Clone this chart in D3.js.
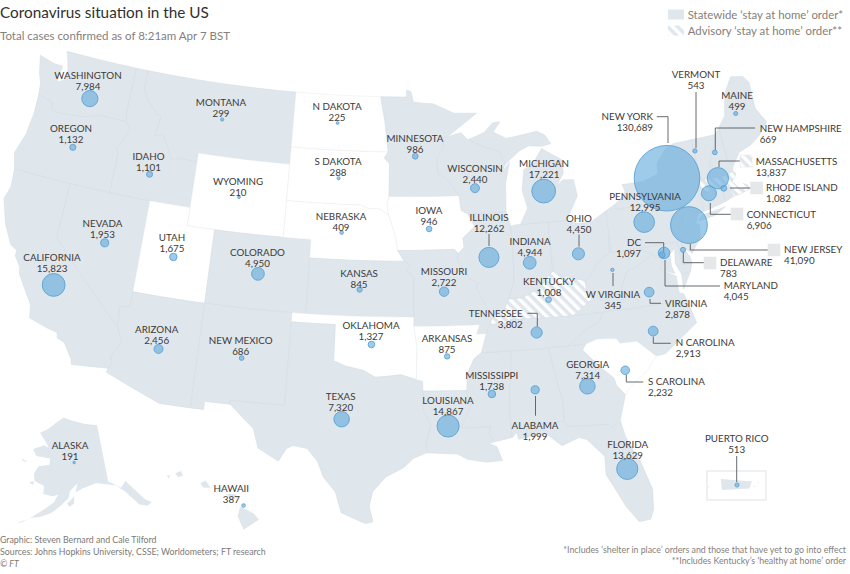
<!DOCTYPE html>
<html>
<head>
<meta charset="utf-8">
<script src="https://cdn.jsdelivr.net/npm/d3@7"></script>
<style>
  html, body { margin: 0; padding: 0; background: #fff; }
  svg { display: block; }
  text { font-family: Lato, "Open Sans", sans-serif; }
</style>
</head>
<body>
<svg id="chart" width="850" height="574"></svg>
<script>
// cases per state
const stateNames = ['WASHINGTON','OREGON','CALIFORNIA','NEVADA','IDAHO','MONTANA','WYOMING','UTAH','COLORADO','ARIZONA','NEW MEXICO','N DAKOTA','S DAKOTA','NEBRASKA','KANSAS','OKLAHOMA','TEXAS','MINNESOTA','IOWA','MISSOURI','ARKANSAS','LOUISIANA','WISCONSIN','ILLINOIS','MICHIGAN','INDIANA','OHIO','KENTUCKY','TENNESSEE','MISSISSIPPI','ALABAMA','GEORGIA','FLORIDA','S CAROLINA','N CAROLINA','VIRGINIA','W VIRGINIA','MARYLAND','DC','DELAWARE','PENNSYLVANIA','NEW JERSEY','NEW YORK','VERMONT','NEW HAMPSHIRE','MAINE','CONNECTICUT','RHODE ISLAND','MASSACHUSETTS','PUERTO RICO','ALASKA','HAWAII'];
const caseCounts = [7984,1132,15823,1953,1101,299,210,1675,4950,2456,686,225,288,409,845,1327,7320,986,946,2722,875,14867,2440,12262,17221,4944,4450,1008,3802,1738,1999,7314,13629,2232,2913,2878,345,4045,1097,783,12995,41090,130689,543,669,499,6906,1082,13837,513,191,387];
const centreLon = [-120.08,-120.45,-119.45,-116.63,-114.41,-109.62,-107.58,-111.68,-105.61,-111.68,-106.12,-100.58,-100.28,-99.86,-98.42,-97.5,-99.3,-94.48,-93.49,-92.51,-92.41,-92.46,-90.01,-89.25,-84.9,-86.38,-82.87,-85.29,-86.3,-89.55,-86.71,-83.29,-81.41,-80.7,-78.48,-78.33,-80.63,-76.85,-77.01,-75.49,-77.88,-74.74,-75.67,-73.22,-71.78,-69.55,-72.86,-71.72,-71.98,-66.4,-152,-155.7];
const centreLat = [46.77,43.95,36.48,39.29,43.41,47.02,42.92,39.22,38.91,34.21,34.32,47.44,44.41,41.47,38.43,35.5,31.44,45.71,41.74,38.34,34.86,31.12,43.88,40.09,43.45,39.65,39.87,37.58,35.88,32.75,32.82,32.74,28.07,33.34,35.2,37.3,38.78,39.25,39.16,39.23,41.07,40.48,43.2,44.36,44.05,45.86,41.95,42.04,42.64,18.2,64,20.3];

const noOrderStates = ['N DAKOTA','S DAKOTA','WYOMING','UTAH','NEBRASKA','IOWA','OKLAHOMA','ARKANSAS','S CAROLINA'];
const advisoryStates = ['KENTUCKY','MASSACHUSETTS'];

// state outlines as lon/lat rings
const outlines = {
  'WASHINGTON': [[[-122.76,49],[-117.03,49],[-117.04,46.42],[-116.92,45.99],[-118.98,46],[-119.3,45.93],[-120.2,45.73],[-121.2,45.65],[-122.2,45.58],[-122.76,45.65],[-122.8,46],[-123.2,46.15],[-124,46.25],[-124.1,46.9],[-124.4,47.4],[-124.73,48.38],[-123.5,48.15],[-122.8,48.13],[-122.9,47.2],[-122.4,47.4],[-122.3,48],[-122.5,48.5]]],
  'OREGON': [[[-124,46.25],[-123.2,46.15],[-122.8,46],[-122.76,45.65],[-122.2,45.58],[-121.2,45.65],[-120.2,45.73],[-119.3,45.93],[-118.98,46],[-116.92,45.99],[-116.46,45.6],[-116.85,45],[-117.2,44.45],[-117.03,44.2],[-117.03,42],[-124.21,42],[-124.55,42.84],[-124.1,44],[-123.95,45.2]]],
  'CALIFORNIA': [[[-124.21,42],[-120,42],[-120,39],[-114.63,35],[-114.13,34.26],[-114.72,33.4],[-114.52,33.03],[-114.72,32.72],[-117.12,32.53],[-117.25,32.85],[-117.9,33.6],[-118.4,33.75],[-118.5,34.03],[-119.2,34.15],[-120.5,34.45],[-120.65,35.15],[-121.9,36.6],[-122,36.95],[-122.5,37.5],[-122.5,37.8],[-123,38],[-123.75,39],[-124.35,40.3],[-124.1,41]]],
  'NEVADA': [[[-120,42],[-114.04,42],[-114.04,36.2],[-114.74,36.1],[-114.63,35],[-120,39]]],
  'IDAHO': [[[-117.03,49],[-116.05,49],[-116.05,48],[-115.7,47.45],[-114.7,46.75],[-114.35,46.65],[-114.55,45.55],[-113.95,45.7],[-113.45,45.05],[-113,44.45],[-112.3,44.55],[-111.5,44.55],[-111.05,44.48],[-111.05,42],[-117.03,42],[-117.03,44.2],[-117.2,44.45],[-116.85,45],[-116.46,45.6],[-116.92,45.99],[-117.04,46.42]]],
  'MONTANA': [[[-116.05,49],[-116.05,48],[-115.7,47.45],[-114.7,46.75],[-114.35,46.65],[-114.55,45.55],[-113.95,45.7],[-113.45,45.05],[-113,44.45],[-112.3,44.55],[-111.5,44.55],[-111.05,44.48],[-111.05,45],[-104.05,45],[-104.05,49]]],
  'WYOMING': [[[-111.05,45],[-104.05,45],[-104.05,41],[-111.05,41]]],
  'UTAH': [[[-114.04,42],[-111.05,42],[-111.05,41],[-109.05,41],[-109.05,37],[-114.04,37]]],
  'COLORADO': [[[-109.05,41],[-102.05,41],[-102.05,37],[-109.05,37]]],
  'ARIZONA': [[[-114.04,37],[-109.05,37],[-109.05,31.33],[-111.07,31.33],[-114.81,32.5],[-114.72,32.72],[-114.52,33.03],[-114.72,33.4],[-114.13,34.26],[-114.63,35],[-114.74,36.1],[-114.04,36.2]]],
  'NEW MEXICO': [[[-109.05,37],[-103,37],[-103.04,32],[-106.62,32],[-106.53,31.78],[-108.2,31.78],[-108.2,31.33],[-109.05,31.33]]],
  'N DAKOTA': [[[-104.05,49],[-97.23,49],[-96.85,47.6],[-96.56,45.94],[-104.05,45.94]]],
  'S DAKOTA': [[[-104.05,45.94],[-96.56,45.94],[-96.85,45.6],[-96.45,45.3],[-96.45,43.5],[-96.6,43.1],[-96.45,42.49],[-97.2,42.85],[-97.9,42.8],[-98.5,43],[-104.05,43]]],
  'NEBRASKA': [[[-104.05,43],[-98.5,43],[-97.9,42.8],[-97.2,42.85],[-96.45,42.49],[-96.1,41.7],[-95.9,41.2],[-95.77,40.58],[-95.31,40],[-102.05,40],[-102.05,41],[-104.05,41]]],
  'KANSAS': [[[-102.05,40],[-95.31,40],[-94.9,39.8],[-95.1,39.5],[-94.61,39.1],[-94.62,37],[-102.05,37]]],
  'OKLAHOMA': [[[-103,37],[-94.62,37],[-94.62,36.5],[-94.43,35.4],[-94.48,33.64],[-95.5,33.9],[-96.5,33.8],[-97.2,33.75],[-98,34.1],[-99.2,34.3],[-100,34.56],[-100,36.5],[-103,36.5]]],
  'TEXAS': [[[-103,36.5],[-100,36.5],[-100,34.56],[-99.2,34.3],[-98,34.1],[-97.2,33.75],[-96.5,33.8],[-95.5,33.9],[-94.48,33.64],[-94.04,33.55],[-94.04,32],[-93.55,31.2],[-93.85,30.3],[-93.84,29.7],[-94.7,29.4],[-95.3,28.9],[-96.4,28.4],[-97.2,27.6],[-97.4,26.8],[-97.15,25.96],[-97.6,25.85],[-99.1,26.4],[-99.5,27.5],[-100.3,28.3],[-100.7,29.1],[-101.4,29.77],[-102.3,29.88],[-102.7,29.7],[-103.15,28.98],[-104.5,29.6],[-104.9,30.6],[-106.53,31.78],[-106.62,32],[-103.04,32]]],
  'MINNESOTA': [[[-97.23,49],[-95.15,49],[-95.15,49.38],[-94.8,49.3],[-94.6,48.7],[-93,48.6],[-91.4,48.05],[-89.6,48],[-92,46.75],[-92.3,46.66],[-92.3,46.1],[-92.85,45.6],[-92.75,44.75],[-91.9,44.3],[-91.22,43.5],[-96.45,43.5],[-96.45,45.3],[-96.85,45.6],[-96.56,45.94],[-96.85,47.6]]],
  'IOWA': [[[-96.45,43.5],[-91.22,43.5],[-91.1,42.7],[-90.64,42.5],[-90.15,41.8],[-91.05,41.2],[-91,40.7],[-91.42,40.38],[-91.73,40.61],[-95.77,40.58],[-95.9,41.2],[-96.1,41.7],[-96.45,42.49],[-96.6,43.1]]],
  'MISSOURI': [[[-95.77,40.58],[-91.73,40.61],[-91.42,40.38],[-91.5,40],[-90.7,39],[-90.2,38.8],[-90.2,38.4],[-89.5,37.3],[-89.15,37],[-89.42,36.5],[-89.7,36],[-90.37,36],[-90.15,36.5],[-94.62,36.5],[-94.62,37],[-94.61,39.1],[-95.1,39.5],[-94.9,39.8],[-95.31,40]]],
  'ARKANSAS': [[[-94.62,36.5],[-90.15,36.5],[-90.37,36],[-89.7,36],[-90.1,35],[-90.6,34.7],[-91.1,33.9],[-91.17,33],[-94.04,33.02],[-94.04,33.55],[-94.48,33.64],[-94.43,35.4]]],
  'LOUISIANA': [[[-94.04,33.02],[-91.17,33],[-91.1,32.5],[-90.9,32.3],[-91.6,31],[-89.73,31],[-89.85,30.65],[-89.55,30.18],[-89.9,30.1],[-89.4,29.9],[-89.1,29.15],[-90.1,29.1],[-91.3,29.3],[-91.9,29.6],[-93.84,29.7],[-93.85,30.3],[-93.55,31.2],[-94.04,32]]],
  'MISSISSIPPI': [[[-91.17,33],[-91.1,33.9],[-90.6,34.7],[-90.1,35],[-88.2,35],[-88.1,34.9],[-88.47,31.9],[-88.4,30.35],[-89.55,30.18],[-89.85,30.65],[-89.73,31],[-91.6,31],[-90.9,32.3],[-91.1,32.5]]],
  'ALABAMA': [[[-88.2,35],[-85.6,35],[-85.18,32.87],[-85,32.3],[-85,31],[-87.6,31],[-87.4,30.65],[-87.5,30.3],[-88,30.23],[-88.1,30.6],[-88.4,30.35],[-88.47,31.9],[-88.1,34.9]]],
  'TENNESSEE': [[[-89.42,36.5],[-88.05,36.5],[-88.05,36.68],[-83.68,36.6],[-81.68,36.59],[-82,36.1],[-83,35.75],[-84.3,35],[-90.1,35],[-89.7,36]]],
  'KENTUCKY': [[[-89.42,36.5],[-89.15,37],[-88.5,37.1],[-88.05,37.8],[-87.1,37.8],[-86.3,38.1],[-85.7,38.3],[-85.4,38.7],[-84.8,39.1],[-84.2,38.8],[-83.7,38.65],[-82.6,38.4],[-82.6,37.9],[-81.97,37.54],[-83.68,36.6],[-88.05,36.68],[-88.05,36.5]]],
  'ILLINOIS': [[[-90.64,42.5],[-87.8,42.5],[-87.53,41.7],[-87.53,39.35],[-87.6,38.7],[-87.95,38],[-88.05,37.8],[-88.5,37.1],[-89.15,37],[-89.5,37.3],[-90.2,38.4],[-90.2,38.8],[-90.7,39],[-91.5,40],[-91.42,40.38],[-91,40.7],[-91.05,41.2],[-90.15,41.8]]],
  'INDIANA': [[[-87.53,41.7],[-87.2,41.75],[-86.82,41.76],[-84.8,41.76],[-84.8,39.1],[-85.4,38.7],[-85.7,38.3],[-86.3,38.1],[-87.1,37.8],[-88.05,37.8],[-87.95,38],[-87.6,38.7],[-87.53,39.35]]],
  'OHIO': [[[-84.8,41.76],[-83.45,41.73],[-82.7,41.5],[-81.7,41.5],[-80.52,41.98],[-80.52,40.64],[-80.7,39.7],[-81.7,39.2],[-82.2,38.6],[-82.6,38.4],[-83.7,38.65],[-84.2,38.8],[-84.8,39.1]]],
  'MICHIGAN': [
    [[-86.82,41.76],[-84.8,41.76],[-83.45,41.73],[-83.15,42.1],[-82.45,43],[-82.6,43.9],[-83.4,43.95],[-83.9,43.65],[-83.3,44.3],[-83.3,45.05],[-84.75,45.78],[-85.5,45],[-86.25,44.7],[-86.5,43.6],[-86.2,42.6]],
    [[-90.4,46.55],[-89.1,46.9],[-88.4,47.4],[-87.8,47.45],[-88.4,46.9],[-87.4,46.5],[-85,46.75],[-84.4,46.5],[-84,46],[-84.75,45.9],[-85.7,46],[-86.5,45.75],[-87.6,45.1],[-88,45.8],[-88.8,46]]
  ],
  'WISCONSIN': [[[-92.3,46.66],[-92,46.75],[-90.9,46.95],[-90.4,46.55],[-88.8,46],[-88,45.8],[-87.6,45.1],[-88,44.55],[-87.3,45.2],[-87.7,44],[-87.8,42.5],[-90.64,42.5],[-91.1,42.7],[-91.22,43.5],[-91.9,44.3],[-92.75,44.75],[-92.85,45.6],[-92.3,46.1]]],
  'W VIRGINIA': [[[-82.6,38.4],[-82.2,38.6],[-81.7,39.2],[-80.7,39.7],[-80.52,40.64],[-80.52,39.72],[-79.48,39.72],[-79.48,39.2],[-78.4,39.62],[-77.72,39.32],[-78.35,39],[-78.87,38.76],[-79.65,38.58],[-80.3,37.5],[-81.68,37.2],[-81.97,37.54],[-82.6,37.9]]],
  'VIRGINIA': [
    [[-83.68,36.6],[-81.97,37.54],[-81.68,37.2],[-80.3,37.5],[-79.65,38.58],[-78.87,38.76],[-78.35,39],[-77.72,39.32],[-77.05,38.85],[-77.3,38.4],[-76.3,37.9],[-76.3,37],[-76,36.9],[-75.87,36.55],[-81.68,36.59]],
    [[-75.9,37.95],[-75.25,38.03],[-75.95,37.15]]
  ],
  'N CAROLINA': [[[-84.3,35],[-83,35.75],[-82,36.1],[-81.68,36.59],[-75.87,36.55],[-75.5,35.25],[-76.5,34.7],[-77.9,33.9],[-78.55,33.86],[-79.67,34.8],[-80.8,34.82],[-81,35.1],[-82.3,35.2],[-83.1,35]]],
  'S CAROLINA': [[[-83.1,35],[-82.3,35.2],[-81,35.1],[-80.8,34.82],[-79.67,34.8],[-78.55,33.86],[-79.2,33.2],[-80.4,32.5],[-80.9,32.05],[-81.4,32.6],[-81.5,33],[-82.2,33.6],[-83.35,34.7]]],
  'GEORGIA': [[[-85.6,35],[-83.1,35],[-83.35,34.7],[-82.2,33.6],[-81.5,33],[-81.4,32.6],[-80.9,32.05],[-81.45,30.72],[-82.05,30.36],[-82.2,30.57],[-84.85,30.7],[-85,31],[-85,32.3],[-85.18,32.87]]],
  'FLORIDA': [[[-87.6,31],[-85,31],[-84.85,30.7],[-82.2,30.57],[-82.05,30.36],[-81.45,30.72],[-81.25,29.8],[-80.55,28.4],[-80.03,26.8],[-80.15,25.7],[-80.4,25.2],[-81.1,25.15],[-81.8,26.1],[-82.2,26.9],[-82.75,27.9],[-82.7,28.9],[-83.7,29.9],[-84.2,30.05],[-85.3,29.7],[-86.2,30.4],[-87.5,30.3],[-87.4,30.65]]],
  'MARYLAND': [[[-79.48,39.72],[-75.79,39.72],[-75.7,38.46],[-75.05,38.45],[-75.25,38.03],[-75.9,37.95],[-76.2,38.6],[-76.05,39.4],[-76.45,39.15],[-76.5,38.5],[-76.35,38.05],[-77.3,38.4],[-77.05,38.85],[-77.72,39.32],[-78.4,39.62],[-79.48,39.2]]],
  'DELAWARE': [[[-75.79,39.72],[-75.4,39.8],[-75.55,39.45],[-75.1,38.8],[-75.05,38.45],[-75.7,38.46]]],
  'PENNSYLVANIA': [[[-80.52,41.98],[-79.76,42.27],[-79.76,42],[-75.35,42],[-74.7,41.36],[-75.1,40.95],[-75.2,40.65],[-74.72,40.15],[-75.4,39.8],[-75.79,39.72],[-80.52,39.72]]],
  'NEW JERSEY': [[[-74.7,41.36],[-73.9,41],[-74.25,40.5],[-74,40.4],[-74.1,39.75],[-74.9,38.95],[-75.55,39.45],[-75.4,39.8],[-74.72,40.15],[-75.2,40.65],[-75.1,40.95]]],
  'NEW YORK': [
    [[-79.76,42.27],[-79.05,42.7],[-78.9,42.9],[-79.05,43.27],[-77.5,43.25],[-76.3,43.5],[-76.2,44.1],[-75.3,44.85],[-74.7,45],[-73.35,45],[-73.25,43.55],[-73.3,42.75],[-73.5,42.05],[-73.49,41.2],[-73.7,41],[-73.9,41],[-74.7,41.36],[-75.35,42],[-79.76,42]],
    [[-74,40.6],[-72.8,40.7],[-71.9,41.05],[-72.6,40.97],[-73.7,40.87]]
  ],
  'CONNECTICUT': [[[-73.5,42.05],[-71.8,42.02],[-71.8,41.32],[-73.7,41],[-73.49,41.2]]],
  'RHODE ISLAND': [[[-71.8,42.02],[-71.38,42.02],[-71.15,41.5],[-71.8,41.32]]],
  'MASSACHUSETTS': [[[-73.3,42.75],[-71.3,42.7],[-70.8,42.87],[-70.6,42.65],[-71,42.3],[-70.55,41.8],[-70,41.78],[-70.25,42.05],[-69.95,41.9],[-69.95,41.67],[-70.65,41.53],[-71.15,41.5],[-71.38,42.02],[-71.8,42.02],[-73.5,42.05]]],
  'VERMONT': [[[-73.35,45],[-71.5,45],[-71.6,44.5],[-72.05,44.1],[-72.45,43.2],[-72.46,42.73],[-73.3,42.75],[-73.25,43.55]]],
  'NEW HAMPSHIRE': [[[-71.5,45],[-71.08,45.3],[-71.03,44.65],[-70.98,43.4],[-70.7,43.07],[-70.8,42.87],[-71.3,42.7],[-72.46,42.73],[-72.45,43.2],[-72.05,44.1],[-71.6,44.5]]],
  'MAINE': [[[-71.08,45.3],[-70.4,45.9],[-70.25,46.4],[-70,47.1],[-69.23,47.9],[-68.3,47.75],[-67.95,47.35],[-68,45.9],[-67.7,45.4],[-67.4,45],[-68.2,44.4],[-69,44],[-70,43.75],[-70.7,43.07],[-70.98,43.4],[-71.03,44.65]]]
};
const alaskaOutline = [
  [[-141,69.65],[-141,60.3],[-139.5,59.8],[-137.5,58.9],[-135.5,59.8],[-133.5,58],[-131.5,56],[-130,55.2],[-131.5,54.9],[-133.5,55.5],[-135.5,57.3],[-136.5,58.2],[-139,59.5],[-142,60],[-145,60.4],[-148,60],[-149.5,59.8],[-151.8,59.2],[-151,61],[-150,61.2],[-153.5,59.5],[-154.2,58.2],[-156.5,57],[-159,55.8],[-162,55],[-164.8,54.6],[-162,55.9],[-158.5,57.5],[-157.3,58.8],[-159,58.5],[-162,58.7],[-162,60],[-165.3,60.6],[-166,61.7],[-164.8,63],[-161,63.5],[-161,64.5],[-166.3,64.6],[-168,65.6],[-164,66.5],[-162,66.2],[-163.5,67.1],[-166.5,68.4],[-163,69.3],[-160,70.4],[-156.6,71.3],[-152,70.8],[-147,70.2]],
  [[-154.5,57.4],[-152.3,58.6],[-152.4,57.4],[-153.8,56.9]],
  [[-171.5,63.7],[-168.8,63.3],[-170.5,63.3]],
  [[-167,60.2],[-165.5,60.5],[-165.5,59.9]],
  [[-168,53.4],[-166.5,54],[-165.5,54.2],[-164.8,54.6],[-167,53.6]],
  [[-173,52.2],[-170,52.8],[-172,52.4]],
  [[-178,51.8],[-175,52.1],[-176.5,51.8]],
  [[-134.5,57.8],[-133,56.5],[-132,55.3],[-133.5,56],[-135.7,57.4]]
];
const hawaiiOutline = [
  [[-155.9,20.25],[-155.1,19.85],[-154.8,19.5],[-155.7,18.95],[-156.05,19.7]],
  [[-156.7,20.95],[-156.25,20.95],[-156,20.75],[-156.4,20.58]],
  [[-157.3,21.2],[-156.75,21.15],[-157.2,21.08]],
  [[-158.25,21.55],[-157.95,21.7],[-157.65,21.3],[-158.1,21.3]],
  [[-159.75,22.1],[-159.4,22.22],[-159.3,21.95],[-159.6,21.9]],
  [[-160.25,21.95],[-160.05,21.98],[-160.15,21.8]]
];
const puertoRicoOutline = [
  [[-67.25,18.5],[-65.62,18.38],[-65.75,18.02],[-67.2,17.95]],
  [[-67.95,18.12],[-67.85,18.12],[-67.9,18.06]],
  [[-65.55,18.14],[-65.3,18.16],[-65.55,18.1]],
  [[-65.33,18.34],[-65.25,18.34],[-65.3,18.28]]
];

const legendRows = ['Statewide \u2018stay at home\u2019 order*','Advisory \u2018stay at home\u2019 order**'];
const creditLines = ['Graphic: Steven Bernard and Cale Tilford','Sources: Johns Hopkins University, CSSE; Worldometers; FT research'];
const footnotes = ['*Includes \u2018shelter in place\u2019 orders and those that have yet to go into effect','**Includes Kentucky\u2019s \u2018healthy at home\u2019 order'];

// label placement, pixels: x, name baseline, anchor
const labelSpots = {
  'WASHINGTON':[88,79,'middle'],'OREGON':[71,132,'middle'],'CALIFORNIA':[52,261,'middle'],'NEVADA':[102.5,227,'middle'],'IDAHO':[148.5,160,'middle'],
  'MONTANA':[221,106,'middle'],'WYOMING':[238,185,'middle'],'UTAH':[172,241,'middle'],'COLORADO':[257.5,256,'middle'],'ARIZONA':[156.7,333,'middle'],
  'NEW MEXICO':[240.7,344,'middle'],'N DAKOTA':[337,110,'middle'],'S DAKOTA':[338,165,'middle'],'NEBRASKA':[341,220,'middle'],'KANSAS':[359,277,'middle'],
  'OKLAHOMA':[371,329,'middle'],'TEXAS':[340.7,400,'middle'],'MINNESOTA':[415,142,'middle'],'IOWA':[429,214,'middle'],'MISSOURI':[444,275,'middle'],
  'ARKANSAS':[447,342,'middle'],'LOUISIANA':[448,404,'middle'],'WISCONSIN':[475,172,'middle'],'ILLINOIS':[489,221,'middle'],'MICHIGAN':[544,167,'middle'],
  'INDIANA':[530,245,'middle'],'OHIO':[579,222,'middle'],'KENTUCKY':[549,285,'middle'],'TENNESSEE':[522.7,317,'end'],'MISSISSIPPI':[491.7,379,'middle'],
  'ALABAMA':[535,429,'middle'],'GEORGIA':[587.7,368,'middle'],'FLORIDA':[627.7,448,'middle'],'S CAROLINA':[648,385,'start'],'N CAROLINA':[675.7,346,'start'],
  'VIRGINIA':[665,307,'start'],'W VIRGINIA':[613,298,'middle'],'MARYLAND':[723.7,289,'start'],'DC':[641,246,'end'],'DELAWARE':[720,266,'start'],
  'PENNSYLVANIA':[645,200,'middle'],'NEW JERSEY':[784,253,'start'],'NEW YORK':[653,120,'end'],'VERMONT':[696,78,'middle'],'NEW HAMPSHIRE':[759.7,132,'start'],
  'MAINE':[737,99,'middle'],'CONNECTICUT':[746.7,218,'start'],'RHODE ISLAND':[766,191,'start'],'MASSACHUSETTS':[755.7,165,'start'],'PUERTO RICO':[736.7,442,'middle'],
  'ALASKA':[70,449,'middle'],'HAWAII':[231.3,492,'middle']
};
const leaderLines = [
  [[656.7,116.7],[668,116.7],[668,143]],
  [[696,92],[696,148]],
  [[755,128],[715.3,128],[715.3,150]],
  [[740,161],[719,161],[719,167]],
  [[730,188],[750.7,188]],
  [[710.3,203],[710.3,214.3],[731,214.3]],
  [[690.3,244],[690.3,250],[768,250]],
  [[683.3,252],[683.3,262.7],[704,262.7]],
  [[665,260],[665,286],[720,286]],
  [[645,242.7],[663.7,242.7],[663.7,252]],
  [[650,299],[650,303.3],[661,303.3]],
  [[653.3,336.7],[653.3,343.3],[670.7,343.3]],
  [[626.3,375],[626.3,382],[643.3,382]],
  [[527.3,313.3],[537.3,313.3],[537.3,326.7]],
  [[535.5,396],[535.5,415.7]],
  [[489,234],[489,246]],
  [[579,234.5],[579,246.7]],
  [[613,273],[613,286]],
  [[736.7,456],[736.7,482]]
];
const calloutSwatches = [[740,155,'url(#hatch)'],[750.7,182,'#e6e7e8'],[731,208,'#e6e7e8'],[768,244,'#e6e7e8'],[704,257,'#e6e7e8']];

const landColour = '#dfe6ec';
const svg = d3.select('#chart');

const defs = svg.append('defs');
const hatch = defs.append('pattern').attr('id', 'hatch').attr('patternUnits', 'userSpaceOnUse')
  .attr('width', 7).attr('height', 7).attr('patternTransform', 'rotate(-45)');
hatch.append('rect').attr('width', 7).attr('height', 7).attr('fill', landColour);
hatch.append('rect').attr('width', 3.5).attr('height', 7).attr('fill', '#fff');

// put one lon/lat point of a projection on a known spot of the picture
function pinned(projection, lonLat, spot) {
  projection.translate([0, 0]);
  const p = projection(lonLat);
  return projection.translate([spot[0] - p[0], spot[1] - p[1]]);
}
const mainland = pinned(d3.geoConicEqualArea().rotate([95, 0]).parallels([25, 42.5]).scale(1055), [-94.62, 37], [414, 317]);
const alaska = pinned(d3.geoConicEqualArea().rotate([154, 0]).center([0, 58]).parallels([55, 65]).scale(355), [-141, 69.65], [97, 425]);
const hawaii = pinned(d3.geoConicEqualArea().rotate([157, 0]).center([0, 20]).parallels([8, 18]).scale(1030), [-155.5, 19.6], [247, 518]);
const puertoRico = pinned(d3.geoMercator().scale(1090), [-66.4, 18.2], [737, 485]);

// long straight edges (the 49th parallel) have to follow the projection's curve
function densify(ring) {
  const out = [];
  ring.forEach((a, i) => {
    const b = ring[(i + 1) % ring.length];
    const steps = Math.max(1, Math.ceil(Math.abs(b[0] - a[0])));
    for (let s = 0; s < steps; s++) out.push([a[0] + (b[0] - a[0]) * s / steps, a[1] + (b[1] - a[1]) * s / steps]);
  });
  return out;
}
const ringsPath = (rings, projection) => rings.map(r => d3.line()(densify(r).map(projection)) + 'Z').join('');

const fillFor = name => noOrderStates.includes(name) ? '#fff' : advisoryStates.includes(name) ? 'url(#hatch)' : landColour;

svg.append('g').selectAll('path')
  .data(Object.keys(outlines))
  .join('path')
  .attr('d', d => ringsPath(outlines[d], mainland))
  .attr('fill', fillFor)
  .attr('stroke', d => noOrderStates.includes(d) ? '#e6ebef' : '#d2dbe2')
  .attr('stroke-width', 0.5)
  .attr('stroke-linejoin', 'round');

[[alaskaOutline, alaska], [hawaiiOutline, hawaii], [puertoRicoOutline, puertoRico]].forEach(([rings, projection]) => {
  svg.append('path').attr('d', ringsPath(rings, projection)).attr('fill', landColour);
});

// Puerto Rico inset frame
svg.append('rect').attr('x', 707).attr('y', 471).attr('width', 59).attr('height', 29)
  .attr('fill', 'none').attr('stroke', '#e4e7ea').attr('stroke-width', 1.2);

// bubbles, biggest first so the small ones stay on top
const radius = d3.scaleSqrt().domain([0, d3.max(caseCounts)]).range([0, 32.8]);
const projectionFor = name => name === 'ALASKA' ? alaska : name === 'HAWAII' ? hawaii : name === 'PUERTO RICO' ? puertoRico : mainland;
const bubbles = stateNames.map((name, i) => {
  const [x, y] = projectionFor(name)([centreLon[i], centreLat[i]]);
  return { name, cases: caseCounts[i], x, y };
}).sort((a, b) => b.cases - a.cases);

svg.append('g').selectAll('path')
  .data(leaderLines)
  .join('path')
  .attr('d', d => d3.line()(d))
  .attr('fill', 'none')
  .attr('stroke', '#55595c')
  .attr('stroke-width', 0.9);

svg.append('g').selectAll('circle')
  .data(bubbles)
  .join('circle')
  .attr('cx', d => d.x)
  .attr('cy', d => d.y)
  .attr('r', d => radius(d.cases))
  .attr('fill', '#5fa9dc')
  .attr('fill-opacity', 0.6)
  .attr('stroke', '#5da3d2')
  .attr('stroke-width', 0.9);

svg.append('g').selectAll('rect')
  .data(calloutSwatches)
  .join('rect')
  .attr('x', d => d[0])
  .attr('y', d => d[1])
  .attr('width', 12)
  .attr('height', 12)
  .attr('fill', d => d[2])
  .attr('stroke', '#e6e7e8')
  .attr('stroke-width', 0.6);

// state labels, name over count
const labels = svg.append('g').attr('font-size', 9.8).attr('fill', '#3d3a38');
stateNames.forEach((name, i) => {
  const [x, y, anchor] = labelSpots[name];
  const t = labels.append('text').attr('text-anchor', anchor);
  t.append('tspan').attr('x', x).attr('y', y).text(name);
  t.append('tspan').attr('x', x).attr('y', y + 10.6).text(d3.format(',')(caseCounts[i]));
});

// title block
svg.append('text').attr('x', 0).attr('y', 17.5).attr('font-size', 15.3).attr('fill', '#33302e').text('Coronavirus situation in the US');
svg.append('text').attr('x', 0).attr('y', 40).attr('font-size', 11.5).attr('fill', '#85807b').text('Total cases confirmed as of 8:21am Apr 7 BST');

// legend
legendRows.forEach((row, i) => {
  svg.append('rect').attr('x', 668).attr('y', 9.5 + i * 16).attr('width', 16).attr('height', 10)
    .attr('fill', i === 0 ? '#dfe6ec' : 'url(#hatch)');
  svg.append('text').attr('x', 687.7).attr('y', 18.5 + i * 16).attr('font-size', 11.4).attr('fill', '#85807b').text(row);
});

// footer
creditLines.forEach((line, i) => {
  svg.append('text').attr('x', 0).attr('y', 543 + i * 11.7).attr('font-size', 8.8).attr('fill', '#7d7975').text(line);
});
svg.append('text').attr('x', 0).attr('y', 567).attr('font-size', 8.8).attr('font-style', 'italic').attr('fill', '#7d7975').text('\u00a9 FT');
footnotes.forEach((line, i) => {
  svg.append('text').attr('x', 846).attr('y', 553 + i * 11.3).attr('font-size', 8.8).attr('text-anchor', 'end').attr('fill', '#85807b').text(line);
});
</script>
</body>
</html>
